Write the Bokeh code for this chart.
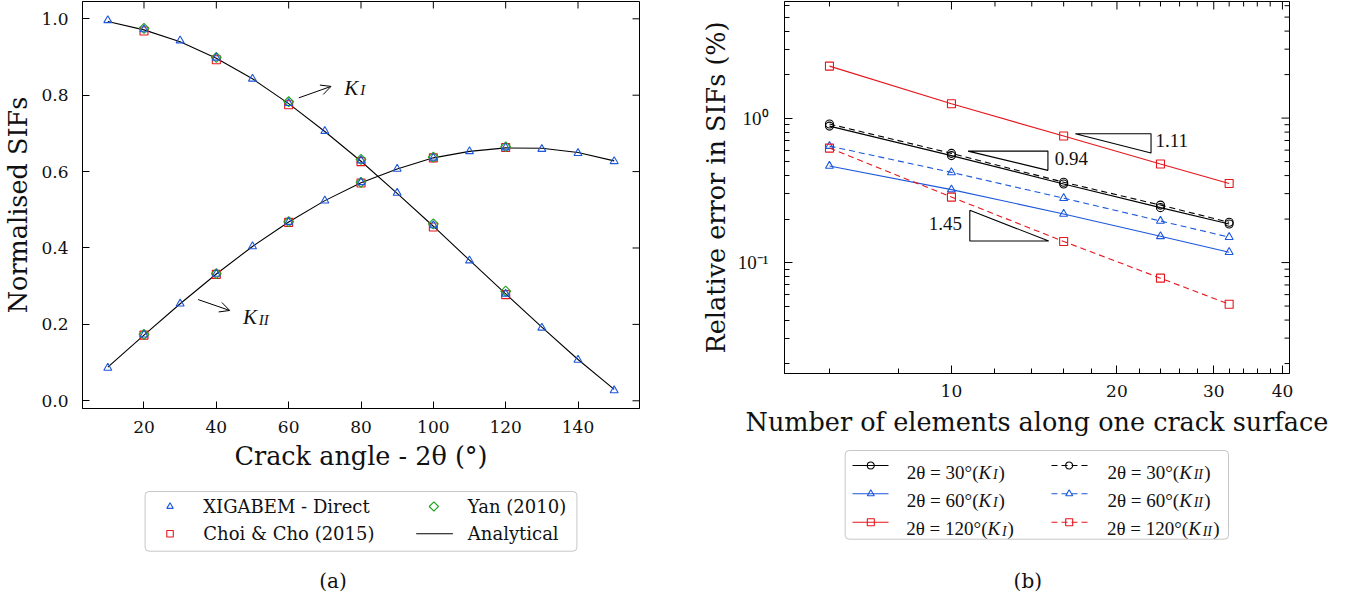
import math
from bokeh.plotting import figure
from bokeh.layouts import row, column
from bokeh.models import (Range1d, FixedTicker, CustomJSTickFormatter,
                          PrintfTickFormatter, Arrow, OpenHead, BoxAnnotation)
from bokeh.core.properties import value
from bokeh.embed import file_html
from bokeh.resources import INLINE

BLUE = "#1c57dc"
RED = "#e5161c"
GREEN = "#1ea51e"
SERIF = "DejaVu Serif"
MATH = "Liberation Serif"
INK = "#111111"

# ---------------- data (a) ----------------
crack_angle = [10, 20, 30, 40, 50, 60, 70, 80, 90, 100, 110, 120, 130, 140, 150]
xigabem_KI = [0.996, 0.972, 0.943, 0.898, 0.843, 0.779, 0.706, 0.629, 0.544,
              0.459, 0.367, 0.280, 0.191, 0.107, 0.027]
xigabem_KII = [0.086, 0.173, 0.254, 0.332, 0.404, 0.468, 0.524, 0.572, 0.607,
               0.636, 0.653, 0.663, 0.659, 0.648, 0.627]
analytical_KI = [0.993, 0.971, 0.940, 0.897, 0.843, 0.778, 0.705, 0.627, 0.543,
                 0.457, 0.368, 0.280, 0.193, 0.108, 0.030]
analytical_KII = [0.088, 0.172, 0.254, 0.332, 0.404, 0.468, 0.524, 0.571, 0.607,
                  0.636, 0.653, 0.662, 0.661, 0.650, 0.628]
ref_angle = [20, 40, 60, 80, 100, 120]
choi_KI = [0.968, 0.893, 0.775, 0.626, 0.455, 0.278]
choi_KII = [0.172, 0.331, 0.467, 0.570, 0.636, 0.663]
yan_KI = [0.975, 0.899, 0.783, 0.632, 0.463, 0.287]
yan_KII = [0.174, 0.333, 0.469, 0.572, 0.638, 0.665]
a_xticks = [20, 40, 60, 80, 100, 120, 140]
a_yticks = [0.0, 0.2, 0.4, 0.6, 0.8, 1.0]
a_legend = ["XIGABEM - Direct", "Choi & Cho (2015)", "Yan (2010)", "Analytical"]

# ---------------- data (b) ----------------
n_elem = [6, 10, 16, 24, 32]
err_30_KI = [0.88, 0.55, 0.35, 0.24, 0.185]
err_30_KII = [0.91, 0.57, 0.36, 0.25, 0.19]
err_60_KI = [0.466, 0.320, 0.217, 0.152, 0.118]
err_60_KII = [0.640, 0.421, 0.279, 0.194, 0.150]
err_120_KI = [2.29, 1.258, 0.751, 0.481, 0.353]
err_120_KII = [0.620, 0.284, 0.140, 0.078, 0.0515]
b_xticks = [10, 20, 30, 40]
b_xminor = [6, 8, 12, 14, 16, 18, 22, 24, 26, 28, 32, 34, 36, 38]
b_yticks = [0.1, 1.0]
b_yminor = [0.02, 0.03, 0.04, 0.05, 0.06, 0.07, 0.08, 0.09,
            0.2, 0.3, 0.4, 0.5, 0.6, 0.7, 0.8, 0.9, 2, 3, 4, 5, 6]
b_angles = ["30", "60", "120"]
# slope triangles (x, y vertices) and their rates
slope_094_x = [10.72, 14.98, 14.98, 10.72]
slope_094_y = [0.591, 0.591, 0.4347, 0.591]
slope_111_x = [16.8, 23.07, 23.07, 16.8]
slope_111_y = [0.78, 0.78, 0.573, 0.78]
slope_145_x = [10.8, 10.8, 15.03, 10.8]
slope_145_y = [0.23, 0.141, 0.141, 0.23]
slope_labels = ["0.94", "1.11", "1.45"]


def style(ax, font=SERIF, size="17px", major=7, minor=4, standoff=8, lstand=6):
    ax.major_tick_in = major
    ax.major_tick_out = 0
    ax.minor_tick_in = minor
    ax.minor_tick_out = 0
    ax.major_tick_line_color = "black"
    ax.minor_tick_line_color = "black"
    ax.axis_line_color = "black"
    ax.major_label_text_font = font
    ax.major_label_text_color = INK
    ax.major_label_text_font_size = size
    ax.major_label_standoff = standoff
    ax.axis_label_text_font = SERIF
    ax.axis_label_text_font_size = "25.5px"
    ax.axis_label_text_font_style = "normal"
    ax.axis_label_text_color = INK
    ax.axis_label_standoff = lstand


# ================= figure (a) =================
A_W, A_H, A_L, A_R, A_T, A_B = 680, 475, 81, 41, 1, 67
ax0, ax1, ay0, ay1 = 3.0, 157.0, -0.0202, 1.0453
pa = figure(width=A_W, height=A_H, x_range=Range1d(ax0, ax1),
            y_range=Range1d(ay0, ay1), output_backend="svg",
            toolbar_location=None, min_border_left=A_L, min_border_right=A_R,
            min_border_top=A_T, min_border_bottom=A_B)
pa.grid.visible = False
pa.outline_line_color = "black"
pa.xaxis.ticker = FixedTicker(ticks=a_xticks, minor_ticks=[])
pa.yaxis.ticker = FixedTicker(ticks=a_yticks, minor_ticks=[])
pa.yaxis.formatter = PrintfTickFormatter(format="%.1f")
pa.xaxis.axis_label = "Crack angle - 2θ (°)"
pa.yaxis.axis_label = "Normalised SIFs"
style(pa.xaxis[0], standoff=12, lstand=5)
style(pa.yaxis[0], standoff=14, lstand=5)

# inward ticks on the top and right edges
fw_a = A_W - A_L - A_R
fh_a = A_H - A_T - A_B
dy7 = 7 * (ay1 - ay0) / fh_a
dx7 = 7 * (ax1 - ax0) / fw_a
pa.segment(x0=a_xticks, y0=[ay1] * len(a_xticks), x1=a_xticks,
           y1=[ay1 - dy7] * len(a_xticks), line_color="black", line_width=1)
pa.segment(x0=[ax1] * len(a_yticks), y0=a_yticks, x1=[ax1 - dx7] * len(a_yticks),
           y1=a_yticks, line_color="black", line_width=1)

pa.line(crack_angle, analytical_KI, line_color="black", line_width=1.1)
pa.line(crack_angle, analytical_KII, line_color="black", line_width=1.1)
for ys in (choi_KI, choi_KII):
    pa.scatter(ref_angle, ys, marker="square", size=8, fill_color=None,
               line_color=RED, line_width=1.1)
for ys in (yan_KI, yan_KII):
    pa.scatter(ref_angle, ys, marker="square", angle=math.pi / 4, size=7,
               fill_color=None, line_color=GREEN, line_width=1.1)
for ys in (xigabem_KI, xigabem_KII):
    pa.scatter(crack_angle, ys, marker="triangle", size=8, fill_color=None,
               line_color=BLUE, line_width=1.1)

pa.add_layout(Arrow(end=OpenHead(size=10, line_width=1, line_color="black"),
                    x_start=62.8, y_start=0.793, x_end=71.7, y_end=0.823,
                    line_width=1, line_color="black"))
pa.add_layout(Arrow(end=OpenHead(size=10, line_width=1, line_color="black"),
                    x_start=34.96, y_start=0.265, x_end=43.7, y_end=0.2364,
                    line_width=1, line_color="black"))
pa.text(x=[75.37, 47.36], y=[0.8194, 0.2188], text=["K", "K"],
        text_font=value(MATH), text_font_style="italic", text_font_size="21px",
        text_baseline="alphabetic", text_color=INK)
pa.text(x=[79.8, 51.7], y=[0.8141, 0.212], text=["I", "II"],
        text_font=value(MATH), text_font_style="italic", text_font_size="15px",
        text_baseline="alphabetic", text_color=INK)

# legend + caption (a): same side borders, so data units = pixels
LA_H = 120
la = figure(width=A_W, height=LA_H, x_range=Range1d(A_L, A_W - A_R),
            y_range=Range1d(LA_H, 0), x_axis_location=None, y_axis_location=None,
            min_border_left=A_L, min_border_right=A_R, min_border_top=0,
            min_border_bottom=0, toolbar_location=None, output_backend="svg")
la.grid.visible = False
la.outline_line_color = None
la.add_layout(BoxAnnotation(left=143.7, right=576.3, top=16, bottom=75.7,
                            fill_color="white", fill_alpha=1, line_color="#444444",
                            line_width=1, border_radius=4, level="underlay"))
la.scatter([168.7], [31], marker="triangle", size=6.5, fill_color=None,
           line_color=BLUE, line_width=1.1)
la.scatter([168.7], [58.3], marker="square", size=6.5, fill_color=None,
           line_color=RED, line_width=1.1)
la.scatter([433], [31], marker="square", angle=math.pi / 4, size=6.5,
           fill_color=None, line_color=GREEN, line_width=1.1)
la.line([415.3, 452], [58.3, 58.3], line_color="black", line_width=1.1)
la.text(x=[202, 202, 467, 467], y=[31, 58.3, 31, 58.3],
        text=[a_legend[0], a_legend[1], a_legend[2], a_legend[3]],
        text_font=value(SERIF), text_font_size="18px", text_baseline="middle",
        text_color=INK)
la.text(x=[332], y=[105], text=["(a)"], text_font=value(SERIF),
        text_font_size="20px", text_align="center", text_baseline="middle",
        text_color=INK)

# ================= figure (b) =================
B_W, B_H, B_L, B_R, B_T, B_B = 655, 440, 104, 46, 1, 67
bx0, bx1, by0, by1 = 4.97, 41.2, 0.01707, 6.412
pb = figure(width=B_W, height=B_H, x_axis_type="log", y_axis_type="log",
            x_range=Range1d(bx0, bx1), y_range=Range1d(by0, by1),
            output_backend="svg", toolbar_location=None,
            min_border_left=B_L, min_border_right=B_R, min_border_top=B_T,
            min_border_bottom=B_B)
pb.grid.visible = False
pb.outline_line_color = "black"
pb.xaxis.ticker = FixedTicker(ticks=b_xticks, minor_ticks=b_xminor)
pb.yaxis.ticker = FixedTicker(ticks=b_yticks, minor_ticks=b_yminor)
pb.xaxis.formatter = PrintfTickFormatter(format="%d")
pb.yaxis.formatter = CustomJSTickFormatter(
    code="return tick > 0.5 ? '10\u2070' : '10\u207b\u00b9';")
pb.xaxis.axis_label = "Number of elements along one crack surface"
pb.yaxis.axis_label = "Relative error in SIFs (%)"
style(pb.xaxis[0], major=8, minor=5, standoff=11, lstand=7)
style(pb.yaxis[0], font=MATH, size="19px", major=8, minor=5, standoff=16, lstand=4)

fw_b = B_W - B_L - B_R
fh_b = B_H - B_T - B_B
ppd_x = fw_b / math.log10(bx1 / bx0)
ppd_y = fh_b / math.log10(by1 / by0)
for ticks, ln in ((b_xticks, 8), (b_xminor, 5)):
    f = 10 ** (-ln / ppd_y)
    pb.segment(x0=ticks, y0=[by1] * len(ticks), x1=ticks,
               y1=[by1 * f] * len(ticks), line_color="black", line_width=1)
for ticks, ln in ((b_yticks, 8), (b_yminor, 5)):
    f = 10 ** (-ln / ppd_x)
    pb.segment(x0=[bx1] * len(ticks), y0=ticks, x1=[bx1 * f] * len(ticks),
               y1=ticks, line_color="black", line_width=1)

series_b = [
    (err_30_KI, "black", "circle", "solid"),
    (err_30_KII, "black", "circle", "6 4"),
    (err_60_KI, BLUE, "triangle", "solid"),
    (err_60_KII, BLUE, "triangle", "6 4"),
    (err_120_KI, RED, "square", "solid"),
    (err_120_KII, RED, "square", "6 4"),
]
for ys, col, mk, dash in series_b:
    pb.line(n_elem, ys, line_color=col, line_width=1.1, line_dash=dash)
    pb.scatter(n_elem, ys, marker=mk, size=8, fill_color=None, line_color=col,
               line_width=1.1)

for sx, sy in ((slope_094_x, slope_094_y), (slope_111_x, slope_111_y),
               (slope_145_x, slope_145_y)):
    pb.line(sx, sy, line_color="black", line_width=1.1)
pb.text(x=[15.41, 23.5], y=[0.524, 0.701], text=[slope_labels[0], slope_labels[1]],
        text_font=value(MATH), text_font_size="19px", text_baseline="middle",
        text_color=INK)
pb.text(x=[10.45], y=[0.1875], text=[slope_labels[2]], text_font=value(MATH),
        text_font_size="19px", text_baseline="middle", text_align="right",
        text_color=INK)

# legend + caption (b)
LB_H = 155
lb = figure(width=B_W, height=LB_H, x_range=Range1d(B_L, B_W - B_R),
            y_range=Range1d(LB_H, 0), x_axis_location=None, y_axis_location=None,
            min_border_left=B_L, min_border_right=B_R, min_border_top=0,
            min_border_bottom=0, toolbar_location=None, output_backend="svg")
lb.grid.visible = False
lb.outline_line_color = None
lb.add_layout(BoxAnnotation(left=164.7, right=548, top=10, bottom=98.7,
                            fill_color="white", fill_alpha=1, line_color="#444444",
                            line_width=1, border_radius=4, level="underlay"))
row_y = [25, 53.3, 81.7]
cols = ["black", BLUE, RED]
mks = ["circle", "triangle", "square"]
for i, ang in enumerate(b_angles):
    y0 = row_y[i]
    lb.line([172, 208], [y0, y0], line_color=cols[i], line_width=1.1)
    lb.line([371, 408], [y0, y0], line_color=cols[i], line_width=1.1, line_dash="6 4")
    lb.scatter([190.3, 388.7], [y0, y0], marker=mks[i], size=7, fill_color=None,
               line_color=cols[i], line_width=1.1)
    for base, sub in ((223, "I"), (423.7, "II")):
        kx = base + (75 if len(ang) == 2 else 84)
        bl = y0 + 6.5
        lb.text(x=[kx], y=[bl], text=["2θ = " + ang + "°("], text_font=value(MATH),
                text_font_size="19px", text_align="right", text_baseline="alphabetic",
                text_color=INK)
        lb.text(x=[kx], y=[bl], text=["K"], text_font=value(MATH),
                text_font_style="italic", text_font_size="19px",
                text_baseline="alphabetic", text_color=INK)
        sx = kx + 14.5
        lb.text(x=[sx], y=[bl + 2.5], text=[sub], text_font=value(MATH),
                text_font_style="italic", text_font_size="14px",
                text_baseline="alphabetic", text_color=INK)
        lb.text(x=[sx + 5 * len(sub) + 0.5], y=[bl], text=[")"], text_font=value(MATH),
                text_font_size="19px", text_baseline="alphabetic", text_color=INK)
lb.text(x=[347.3], y=[140], text=["(b)"], text_font=value(SERIF),
        text_font_size="20px", text_align="center", text_baseline="middle",
        text_color=INK)

layout = row(column(pa, la), column(pb, lb))
open("out.html", "w").write(file_html(layout, INLINE))
